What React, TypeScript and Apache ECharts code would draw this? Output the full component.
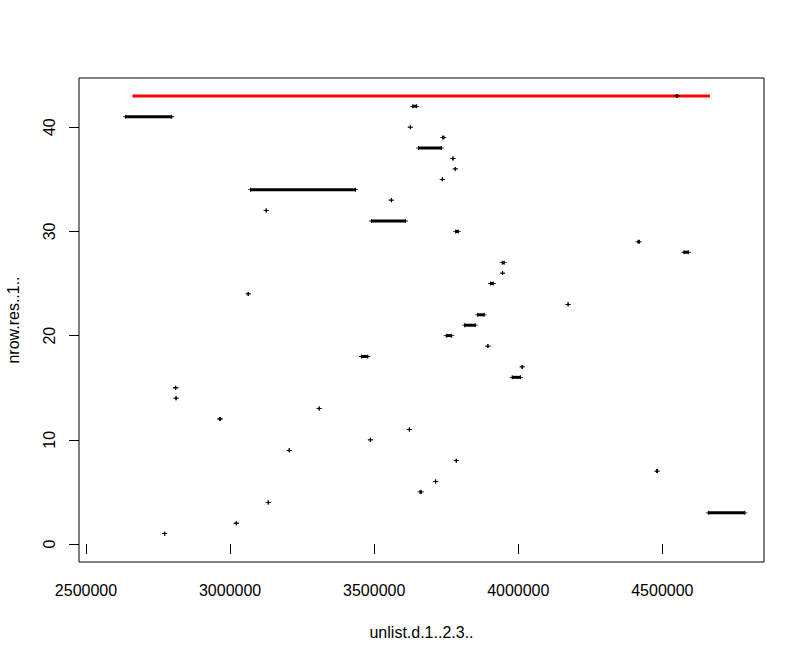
import { useEffect, useRef } from "react";
import * as echarts from "echarts";

// Row index (y value) of each run of points
const rows = [
  1, 2, 3, 4, 5, 6, 7, 8, 9, 10, 11, 12, 13, 14, 15, 16, 17, 18, 19, 20, 21, 22,
  23, 24, 25, 26, 27, 28, 29, 30, 31, 32, 33, 34, 35, 36, 37, 38, 39, 40, 41, 42, 43,
];
// First and last x position of each run
const startX = [
  2773000, 3021500, 4659400, 3132400, 3659000, 3713400, 4480200, 3784800, 3205100, 3486800,
  3622000, 2963600, 3309100, 2812500, 2811200, 3978800, 4013500, 3455600, 3894700, 3750100,
  3813900, 3858900, 4172900, 3062000, 3904000, 3945600, 3944200, 4574800, 4415400, 3782700,
  3491000, 3125400, 3559600, 3071000, 3736300, 3781400, 3773400, 3653800, 3737700, 3625400,
  2637900, 3633700, 4550600,
];
const endX = [
  2773000, 3021500, 4786200, 3132400, 3663600, 3713400, 4482700, 3784800, 3205100, 3486800,
  3622000, 2966100, 3309100, 2812500, 2811200, 4008000, 4013500, 3477900, 3894700, 3768900,
  3850700, 3881900, 4172900, 3064100, 3913100, 3945600, 3951200, 4590100, 4420300, 3791800,
  3608100, 3125400, 3559600, 3434900, 3736300, 3781400, 3773400, 3732900, 3742200, 3625400,
  2797300, 3647600, 4550600,
];
// Red reference line
const refLineY = 43;
const refLineX = [2661000, 4665000];

// Axes
const xTicks = [2500000, 3000000, 3500000, 4000000, 4500000];
const yTicks = [0, 10, 20, 30, 40];
const xRange = [2475700, 4852700];
const yRange = [-1.72, 44.72];
const xTitle = "unlist.d.1..2.3..";
const yTitle = "nrow.res..1..";

const FONT = "'Liberation Sans', Arial, sans-serif";
const PLUS = "path://M2,0L3,0L3,2L5,2L5,3L3,3L3,5L2,5L2,3L0,3L0,2L2,2Z";

export default function App() {
  const ref = useRef<HTMLDivElement>(null);
  useEffect(() => {
    const chart = echarts.init(ref.current!, null, { renderer: "svg" });
    const runSeries = rows.map((y, i) => ({
      type: "line",
      data: [
        [startX[i], y],
        [endX[i], y],
      ],
      symbol: PLUS,
      symbolSize: [5, 4],
      showSymbol: true,
      itemStyle: { color: "#000" },
      lineStyle: { color: "#000", width: 3 },
      z: 3,
      silent: true,
    }));
    const option = {
      animation: false,
      backgroundColor: "#fff",
      grid: {
        left: 79,
        top: 78,
        width: 685,
        height: 484,
        containLabel: false,
        outerBoundsMode: "none",
        show: true,
        borderColor: "#000",
        borderWidth: 1,
        backgroundColor: "transparent",
      },
      xAxis: {
        type: "value",
        min: xRange[0],
        max: xRange[1],
        name: xTitle,
        nameLocation: "middle",
        nameGap: 62,
        nameTextStyle: { fontFamily: FONT, fontSize: 16, color: "#000" },
        axisLine: { show: false },
        splitLine: { show: false },
        axisTick: {
          show: true,
          length: 10,
          customValues: xTicks,
          lineStyle: { color: "#000", width: 1 },
        },
        axisLabel: {
          customValues: xTicks,
          margin: 20,
          fontFamily: FONT,
          fontSize: 16,
          color: "#000",
          formatter: (v: number) => String(v),
        },
      },
      yAxis: {
        type: "value",
        min: yRange[0],
        max: yRange[1],
        name: yTitle,
        nameLocation: "middle",
        nameGap: 58,
        nameTextStyle: { fontFamily: FONT, fontSize: 16, color: "#000" },
        axisLine: { show: false },
        splitLine: { show: false },
        axisTick: {
          show: true,
          length: 10,
          customValues: yTicks,
          lineStyle: { color: "#000", width: 1 },
        },
        axisLabel: {
          customValues: yTicks,
          rotate: 90,
          margin: 22,
          fontFamily: FONT,
          fontSize: 16,
          color: "#000",
          formatter: (v: number) => String(v),
        },
      },
      series: [
        {
          type: "line",
          data: [
            [refLineX[0], refLineY],
            [refLineX[1], refLineY],
          ],
          showSymbol: false,
          symbol: "none",
          lineStyle: { color: "#FF0000", width: 3 },
          z: 2,
          silent: true,
        },
        ...runSeries,
      ],
    };
    chart.setOption(option as any);
    return () => chart.dispose();
  }, []);
  return (
    <div
      ref={ref}
      style={{ position: "absolute", left: 0, top: 0, width: 805, height: 660, background: "#fff" }}
    />
  );
}
